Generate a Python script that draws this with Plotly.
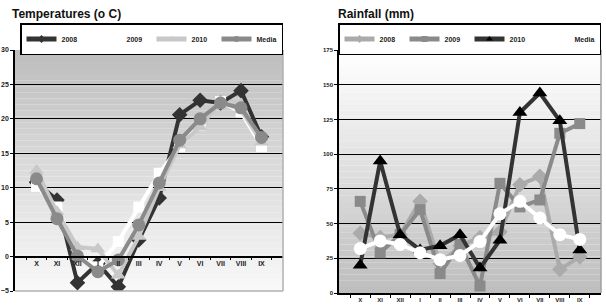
import plotly.graph_objects as go

W, H = 606, 308
months = ["X", "XI", "XII", "I", "II", "III", "IV", "V", "VI", "VII", "VIII", "IX"]

# Temperatures (o C)
t2008 = [10.8, 8.2, -3.8, -1.0, -4.4, 2.4, 8.5, 20.6, 22.7, 22.3, 24.1, 17.4]
t2009 = [10.2, 7.2, 0.3, -1.5, 2.2, 7.2, 12.1, 16.0, 19.1, 22.5, 21.0, 16.0]
t2010 = [12.5, 6.5, 1.4, 1.1, -2.7, 2.9, 10.0, 16.2, 18.8, 22.5, 21.3, 16.6]
tmed = [11.3, 5.5, 0.1, -2.2, -0.5, 4.6, 10.7, 16.9, 20.0, 22.3, 21.6, 17.3]

# Rainfall (mm)
r2008 = [43, 40, 42, 66, 21, 34, 40, 44, 78, 84, 17, 26]
r2009 = [66, 29, 42, 60, 14, 35, 5, 79, 62, 67, 115, 122]
r2010 = [20, 95, 42, 31, 34, 42, 18, 38, 130, 144, 124, 31]
rmed = [32, 37.5, 35, 29, 24, 27, 37, 57, 66, 54, 42, 38.6]


def px(x):
    return x / W


def py(y):
    return 1 - y / H


fig = go.Figure()

t_styles = [
    ("2008", t2008, "#333333", "diamond", 12, "#333333"),
    ("2009", t2009, "#ffffff", "square", 11, "#ffffff"),
    ("2010", t2010, "#c8c8c8", "triangle-up", 13, "#c8c8c8"),
    ("Media", tmed, "#8a8a8a", "circle", 13, "#8a8a8a"),
]
r_styles = [
    ("2008", r2008, "#ababab", "diamond", 12, "#ababab"),
    ("2009", r2009, "#8a8a8a", "square", 11, "#8a8a8a"),
    ("2010", r2010, "#333333", "triangle-up", 13, "#000000"),
    ("Media", rmed, "#ffffff", "circle", 13, "#ffffff"),
]

for styles, xa, ya, lg in [(t_styles, "x", "y", "legend"), (r_styles, "x2", "y2", "legend2")]:
    for name, vals, col, sym, sz, mcol in styles:
        fig.add_trace(go.Scatter(
            x=months, y=vals, name=name, mode="lines+markers",
            line=dict(color=col, width=4),
            marker=dict(symbol=sym, size=sz, color=mcol),
            xaxis=xa, yaxis=ya, showlegend=False))
    # legend entries (thick line, small marker)
    for name, vals, col, sym, sz, mcol in styles:
        fig.add_trace(go.Scatter(
            x=[None], y=[None], name=name, mode="lines+markers",
            line=dict(color=col, width=5),
            marker=dict(symbol=sym, size=6, color=mcol),
            xaxis=xa, yaxis=ya, legend=lg, showlegend=True))

# plot area geometry
tx0, tx1, ty0, ty1 = 15, 283, 50, 291
rx0, rx1, ry0, ry1 = 339, 601, 50, 293
ydom_t = [py(ty1), py(ty0)]
ydom_r = [py(ry1), py(ry0)]
zero_pos = ydom_t[0] + (5 / 35) * (ydom_t[1] - ydom_t[0])

fnt = "Liberation Sans"
fig.update_layout(
    width=W, height=H, margin=dict(l=0, r=0, t=0, b=0, autoexpand=False),
    paper_bgcolor="white", plot_bgcolor="rgba(0,0,0,0)",
    xaxis=dict(domain=[px(tx0), px(tx1)], anchor="free", position=zero_pos,
               type="category", categoryorder="array", categoryarray=months,
               showgrid=False, showline=True, linecolor="black", linewidth=1.5,
               ticks="outside", ticklen=3, tickcolor="black", tickson="boundaries",
               tickfont=dict(family=fnt, size=7, color="#222", weight="bold"),
               zeroline=False, automargin=False),
    yaxis=dict(domain=ydom_t, anchor="x", range=[-5, 30], dtick=5,
               showgrid=True, gridcolor="black", gridwidth=1.3,
               showline=True, linecolor="black", linewidth=1.5,
               ticks="outside", ticklen=3, tickcolor="black",
               tickfont=dict(family=fnt, size=7, color="#222", weight="bold"),
               zeroline=False, automargin=False),
    xaxis2=dict(domain=[px(rx0), px(rx1)], anchor="y2",
                type="category", categoryorder="array", categoryarray=months,
                showgrid=False, showline=True, linecolor="black", linewidth=1.5,
                ticks="outside", ticklen=3, tickcolor="black", tickson="boundaries",
                tickfont=dict(family=fnt, size=6, color="#222", weight="bold"),
                automargin=False),
    yaxis2=dict(domain=ydom_r, anchor="x2", range=[0, 175], dtick=25,
                showgrid=True, gridcolor="black", gridwidth=1.3,
                showline=True, linecolor="black", linewidth=1.5,
                ticks="outside", ticklen=3, tickcolor="black",
                tickfont=dict(family=fnt, size=6, color="#222", weight="bold"),
                zeroline=False, automargin=False),
    legend=dict(orientation="h", x=px(20), y=py(23), xanchor="left", yanchor="top",
                bordercolor="black", borderwidth=1.5, bgcolor="white",
                font=dict(family=fnt, size=7, color="#222", weight="bold"),
                entrywidth=20, itemwidth=30, tracegroupgap=0),
    legend2=dict(orientation="h", x=px(338), y=py(23), xanchor="left", yanchor="top",
                 bordercolor="black", borderwidth=1.5, bgcolor="white",
                 font=dict(family=fnt, size=7, color="#222", weight="bold"),
                 entrywidth=20, itemwidth=30, tracegroupgap=0),
)

# gradient backgrounds
shapes = []
N = 40


def lerp(a, b, t):
    return int(round(a + (b - a) * t))


for i in range(N):
    t = i / (N - 1)
    g = lerp(190, 248, t)
    shapes.append(dict(type="rect", xref="x domain", yref="y domain",
                       x0=0, x1=1, y0=1 - (i + 1) / N, y1=1 - i / N,
                       fillcolor=f"rgb({g},{g},{g})", line=dict(width=0), layer="below"))
    g2 = lerp(255, 190, t)
    shapes.append(dict(type="rect", xref="x2 domain", yref="y2 domain",
                       x0=0, x1=1, y0=1 - (i + 1) / N, y1=1 - i / N,
                       fillcolor=f"rgb({g2},{g2},{g2})", line=dict(width=0), layer="below"))

shapes.append(dict(type="line", xref="paper", yref="paper", x0=px(tx1), x1=px(tx1),
                   y0=ydom_t[0], y1=ydom_t[1], line=dict(color="#b0b0b0", width=1.5)))
shapes.append(dict(type="line", xref="paper", yref="paper", x0=px(tx0), x1=px(tx1),
                   y0=ydom_t[0], y1=ydom_t[0], line=dict(color="#b0b0b0", width=1.5)))
shapes.append(dict(type="line", xref="paper", yref="paper", x0=px(rx1), x1=px(rx1),
                   y0=ydom_r[0], y1=ydom_r[1], line=dict(color="#a0a0a0", width=1.5)))
shapes.append(dict(type="line", xref="paper", yref="paper", x0=px(rx0), x1=px(rx1),
                   y0=ydom_r[1], y1=ydom_r[1], line=dict(color="#a0a0a0", width=1.5)))
fig.update_layout(shapes=shapes)

fig.add_annotation(text="<b>Temperatures (o C)</b>", xref="paper", yref="paper",
                   x=px(10), y=py(5), xanchor="left", yanchor="top", showarrow=False,
                   font=dict(family=fnt, size=12, color="#111"))
fig.add_annotation(text="<b>Rainfall (mm)</b>", xref="paper", yref="paper",
                   x=px(336), y=py(5), xanchor="left", yanchor="top", showarrow=False,
                   font=dict(family=fnt, size=12, color="#111"))

fig.write_html("out.html")
